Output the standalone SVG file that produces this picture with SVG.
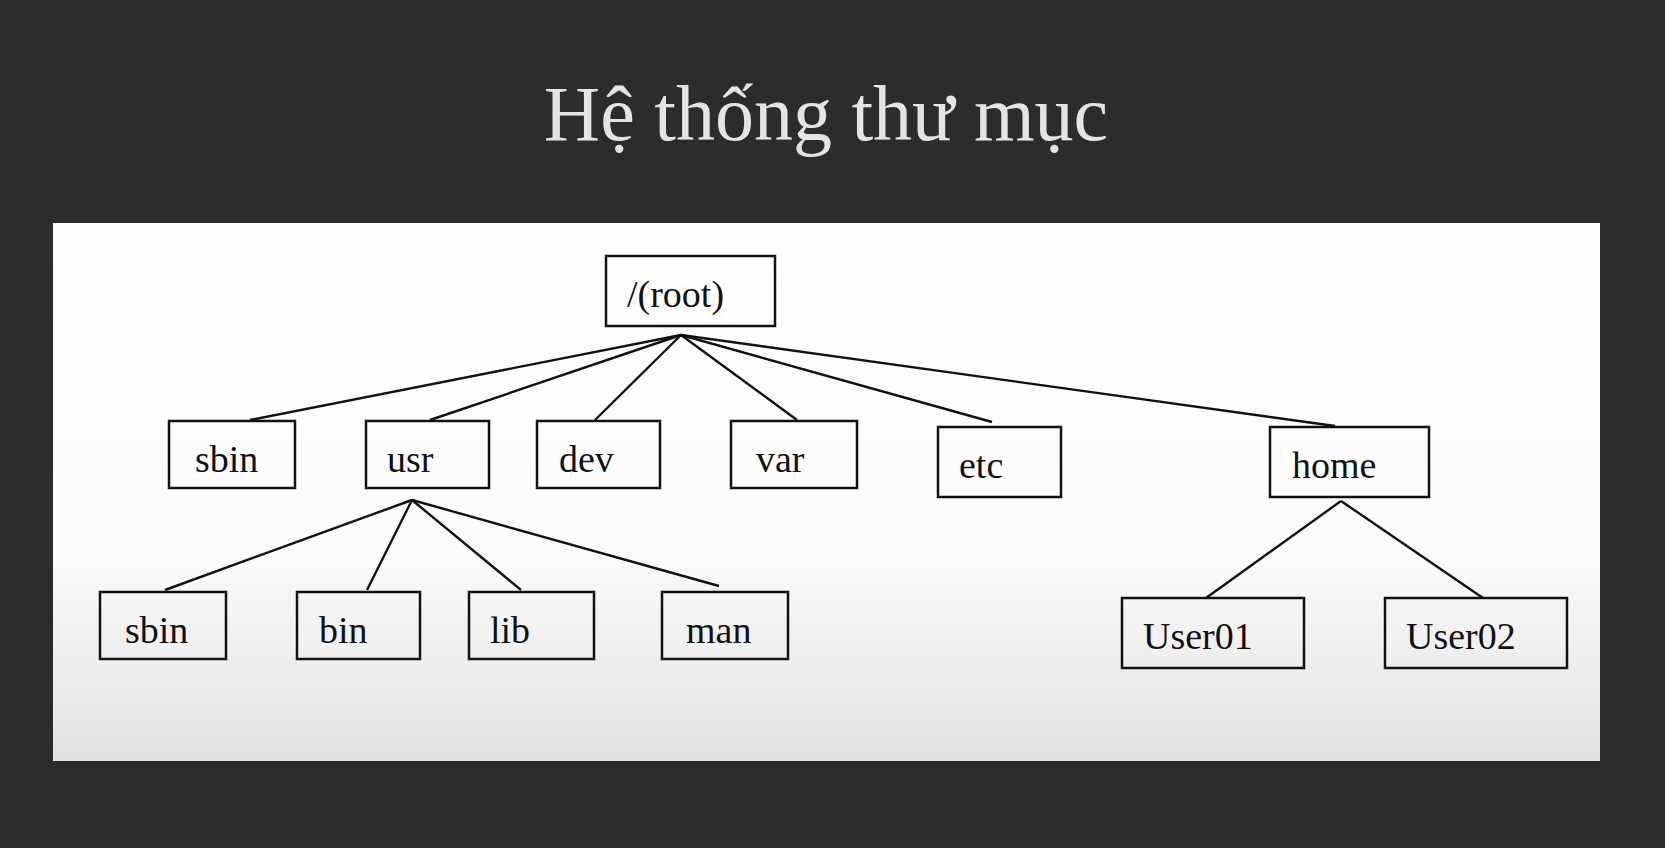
<svg xmlns="http://www.w3.org/2000/svg" width="1665" height="848" viewBox="0 0 1665 848">
<defs>
<linearGradient id="panelGrad" x1="0" y1="0" x2="0" y2="1">
<stop offset="0" stop-color="#ffffff"/>
<stop offset="0.6" stop-color="#fcfcfc"/>
<stop offset="1" stop-color="#e2e2e2"/>
</linearGradient>
<style>
.box{fill:none;stroke:#111;stroke-width:2.5}
.lbl{font-family:"Liberation Serif","Times New Roman",serif;font-size:38px;fill:#111}
.con line{stroke:#111;stroke-width:2.4}
.title{font-family:"Liberation Serif","Times New Roman",serif;font-size:78px;fill:#e4e4e4}
</style>
</defs>
<rect x="0" y="0" width="1665" height="848" fill="#2c2c2d"/>
<text class="title" x="826" y="140" text-anchor="middle">Hệ thống thư mục</text>
<rect x="53" y="223" width="1547" height="538" fill="url(#panelGrad)"/>
<g id="connectors" class="con">
<line x1="681" y1="335" x2="250" y2="420"/>
<line x1="681" y1="335" x2="430" y2="420"/>
<line x1="681" y1="335" x2="595" y2="420"/>
<line x1="681" y1="335" x2="797" y2="420"/>
<line x1="681" y1="335" x2="992" y2="422"/>
<line x1="681" y1="335" x2="1335" y2="426"/>
<line x1="412" y1="500" x2="165" y2="590"/>
<line x1="412" y1="500" x2="367" y2="590"/>
<line x1="412" y1="500" x2="521" y2="590"/>
<line x1="412" y1="500" x2="719" y2="586"/>
<line x1="1341" y1="501" x2="1206" y2="598"/>
<line x1="1341" y1="501" x2="1483" y2="598"/>
</g>
<g id="root"><rect class="box" x="606" y="256" width="169" height="70"/><text class="lbl" x="627" y="307">/(root)</text></g>
<g id="sbin1"><rect class="box" x="169" y="421" width="126" height="67"/><text class="lbl" x="195" y="472">sbin</text></g>
<g id="usr"><rect class="box" x="366" y="421" width="123" height="67"/><text class="lbl" x="387" y="472">usr</text></g>
<g id="dev"><rect class="box" x="537" y="421" width="123" height="67"/><text class="lbl" x="559" y="472">dev</text></g>
<g id="var"><rect class="box" x="731" y="421" width="126" height="67"/><text class="lbl" x="756" y="472">var</text></g>
<g id="etc"><rect class="box" x="938" y="427" width="123" height="70"/><text class="lbl" x="959" y="478">etc</text></g>
<g id="home"><rect class="box" x="1270" y="427" width="159" height="70"/><text class="lbl" x="1292" y="478">home</text></g>
<g id="sbin2"><rect class="box" x="100" y="592" width="126" height="67"/><text class="lbl" x="125" y="643">sbin</text></g>
<g id="bin"><rect class="box" x="297" y="592" width="123" height="67"/><text class="lbl" x="319" y="643">bin</text></g>
<g id="lib"><rect class="box" x="469" y="592" width="125" height="67"/><text class="lbl" x="490" y="643">lib</text></g>
<g id="man"><rect class="box" x="662" y="592" width="126" height="67"/><text class="lbl" x="686" y="643">man</text></g>
<g id="user01"><rect class="box" x="1122" y="598" width="182" height="70"/><text class="lbl" x="1143" y="649">User01</text></g>
<g id="user02"><rect class="box" x="1385" y="598" width="182" height="70"/><text class="lbl" x="1406" y="649">User02</text></g>
</svg>
